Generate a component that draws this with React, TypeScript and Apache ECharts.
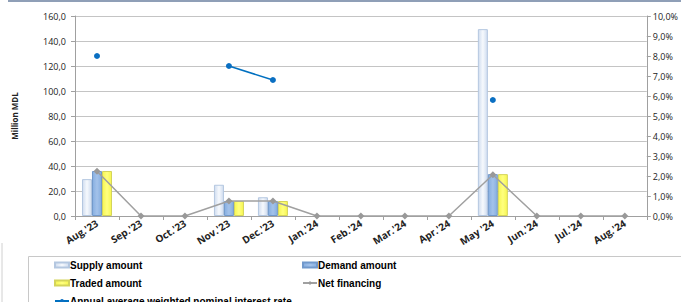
import React, { useEffect, useRef } from "react";
import * as echarts from "echarts";

const categories = ["Aug.'23", "Sep.'23", "Oct.'23", "Nov.'23", "Dec.'23", "Jan.'24", "Feb.'24", "Mar.'24", "Apr.'24", "May '24", "Jun.'24", "Jul.'24", "Aug.'24"];
const supplyAmount = [29.5, null, null, 25.0, 15.0, null, null, null, null, 149.5, null, null, null];
const demandAmount = [36.0, null, null, 12.0, 12.0, null, null, null, null, 33.5, null, null, null];
const tradedAmount = [36.0, null, null, 12.0, 12.0, null, null, null, null, 33.5, null, null, null];
const netFinancing = [35.8, 0, 0, 12.0, 12.0, 0, 0, 0, 0, 33.0, 0, 0, 0];
const interestRate = [8.0, null, null, 7.5, 6.8, null, null, null, null, 5.8, null, null, null];
const leftTicks = { min: 0, max: 160, interval: 20 };
const rightTicks = { min: 0, max: 10, interval: 1 };

const FONT = "'Open Sans', 'DejaVu Sans', sans-serif";
const LFONT = "'Liberation Sans', Arial, sans-serif";

export default function App() {
  const ref = useRef<HTMLDivElement>(null);
  useEffect(() => {
    if (!ref.current) return;
    const chart = echarts.init(ref.current, undefined, { renderer: "svg" });
    const grad = (a: string, b: string) =>
      new echarts.graphic.LinearGradient(0, 0, 1, 0, [
        { offset: 0, color: a },
        { offset: 0.5, color: b },
        { offset: 1, color: a },
      ]);
    const legendText = { fontFamily: LFONT, fontWeight: "bold" as const, fontSize: 10, color: "#000" };
    const mkLegend = (name: string, left: number, top: number, icon?: string) => ({
      data: [icon ? { name, icon } : name],
      left,
      top,
      padding: 0,
      itemWidth: 14,
      itemHeight: 5,
      itemGap: 0,
      textStyle: { ...legendText, padding: [0, 0, 0, -4] },
    });
    chart.setOption({
      animation: false,
      backgroundColor: "#ffffff",
      grid: { left: 75, right: 32, top: 16, bottom: 86 },
      graphic: [
        { type: "rect", shape: { x: 8, y: 0, width: 673, height: 2 }, style: { fill: "#8f9fb7" } },
        { type: "line", shape: { x1: 2, y1: 243, x2: 2, y2: 302 }, style: { stroke: "#d0d0d0", lineWidth: 1 } },
        { type: "rect", shape: { x: 28.5, y: 256.5, width: 660, height: 60 }, style: { fill: "none", stroke: "#c8c8c8", lineWidth: 1 } },
      ],
      legend: [
        mkLegend("Supply amount", 54, 260, "rect"),
        mkLegend("Demand amount", 302, 260, "rect"),
        mkLegend("Traded amount", 54, 278, "rect"),
        mkLegend("Net financing", 302, 278),
        mkLegend("Annual average weighted nominal interest rate", 54, 296),
      ],
      xAxis: {
        type: "category",
        data: categories,
        axisLine: { lineStyle: { color: "#a0a0a0" } },
        axisTick: { show: true, alignWithLabel: false, length: 4, lineStyle: { color: "#a0a0a0" } },
        axisLabel: {
          rotate: 32,
          interval: 0,
          margin: 6,
          fontFamily: FONT,
          fontWeight: "bold",
          fontSize: 10,
          color: "#222",
        },
      },
      yAxis: [
        {
          type: "value",
          ...leftTicks,
          name: "Million MDL",
          nameLocation: "middle",
          nameGap: 57,
          nameRotate: 90,
          nameTextStyle: { fontFamily: FONT, fontWeight: "bold", fontSize: 8, color: "#222" },
          axisLine: { show: true, lineStyle: { color: "#a0a0a0" } },
          axisTick: { show: true, length: 4, lineStyle: { color: "#a0a0a0" } },
          splitLine: { lineStyle: { color: "#c4c4c4", width: 1 } },
          axisLabel: {
            fontFamily: FONT,
            fontSize: 9,
            color: "#222",
            margin: 9,
            formatter: (v: number) => v.toFixed(1).replace(".", ","),
          },
        },
        {
          type: "value",
          ...rightTicks,
          position: "right",
          axisLine: { show: true, lineStyle: { color: "#a0a0a0" } },
          axisTick: { show: true, length: 4, lineStyle: { color: "#a0a0a0" } },
          splitLine: { show: false },
          axisLabel: {
            fontFamily: FONT,
            fontSize: 9,
            color: "#222",
            margin: 6,
            formatter: (v: number) => v.toFixed(1).replace(".", ",") + "%",
          },
        },
      ],
      series: [
        {
          name: "Supply amount",
          type: "bar",
          data: supplyAmount,
          barWidth: 10,
          barGap: "0%",
          itemStyle: { color: grad("#cfdcef", "#f6f9fd"), borderColor: "#b4c7e0", borderWidth: 1 },
        },
        {
          name: "Demand amount",
          type: "bar",
          data: demandAmount,
          barWidth: 10,
          barGap: "0%",
          itemStyle: { color: grad("#86aee0", "#a3c2ea"), borderColor: "#7199cc", borderWidth: 1 },
        },
        {
          name: "Traded amount",
          type: "bar",
          data: tradedAmount,
          barWidth: 10,
          barGap: "0%",
          itemStyle: { color: grad("#f6f650", "#ffff80"), borderColor: "#d4d45a", borderWidth: 1 },
        },
        {
          name: "Net financing",
          type: "line",
          data: netFinancing,
          symbol: "diamond",
          symbolSize: 7,
          lineStyle: { color: "#a0a0a0", width: 1.5 },
          itemStyle: { color: "#999999" },
          z: 5,
        },
        {
          name: "Annual average weighted nominal interest rate",
          type: "line",
          yAxisIndex: 1,
          data: interestRate,
          connectNulls: false,
          symbol: "circle",
          symbolSize: 6,
          showAllSymbol: true,
          lineStyle: { color: "#0070c0", width: 1.5 },
          itemStyle: { color: "#0a6fc2" },
          z: 6,
        },
      ],
    });
    return () => chart.dispose();
  }, []);
  return (
    <div
      ref={ref}
      style={{ position: "fixed", left: 0, top: 0, width: 681, height: 302, background: "#fff" }}
    />
  );
}
